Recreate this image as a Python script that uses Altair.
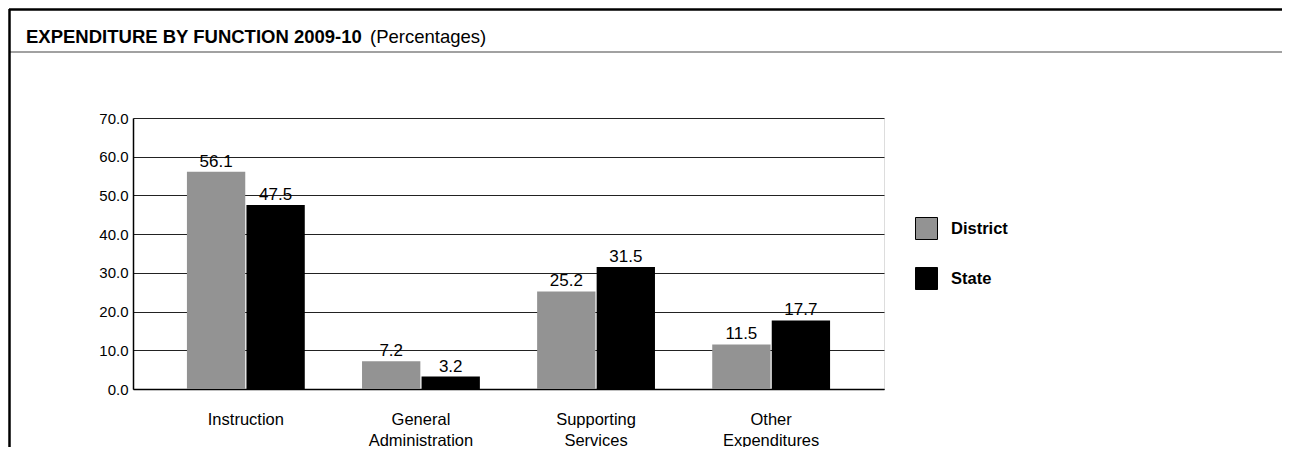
import altair as alt
import pandas as pd

categories = ["Instruction", "General Administration", "Supporting Services", "Other Expenditures"]
series = ["District", "State"]
district = [56.1, 7.2, 25.2, 11.5]
state = [47.5, 3.2, 31.5, 17.7]
y_ticks = [0, 10, 20, 30, 40, 50, 60, 70]
title_bold = "EXPENDITURE BY FUNCTION 2009-10"
title_normal = "(Percentages)"

rows = []
for c, d, s in zip(categories, district, state):
    rows.append({"Category": c, "Series": "District", "Value": d})
    rows.append({"Category": c, "Series": "State", "Value": s})
df = pd.DataFrame(rows)

FONT = "Liberation Sans"

x_enc = alt.X(
    "Category:N",
    sort=categories,
    scale=alt.Scale(paddingInner=0.327, paddingOuter=0.308),
    axis=alt.Axis(
        title=None, labelAngle=0, labelExpr="split(datum.label, ' ')",
        labelFontSize=16.5, labelFont=FONT, labelColor="black",
        labelPadding=22, labelLineHeight=21, ticks=False,
        domainColor="black", domainWidth=1.5,
    ),
)
y_enc = alt.Y(
    "Value:Q",
    scale=alt.Scale(domain=[0, 70]),
    axis=alt.Axis(
        title=None, values=y_ticks, format=".1f", ticks=False,
        labelPadding=5, labelFontSize=15, labelFont=FONT, labelColor="black",
        grid=True, gridColor="#222222", gridWidth=1,
        domainColor="black", domainWidth=1.5,
    ),
)
xoff = alt.XOffset("Series:N", sort=series, scale=alt.Scale(paddingInner=0.02))

base = alt.Chart(df)
bars = base.mark_bar().encode(
    x=x_enc, y=y_enc, xOffset=xoff,
    color=alt.Color(
        "Series:N", sort=series,
        scale=alt.Scale(domain=series, range=["#939393", "#000000"]),
        legend=alt.Legend(
            orient="none", legendX=782, legendY=99, title=None,
            symbolType="square", symbolSize=484,
            symbolStrokeColor="black", symbolStrokeWidth=1,
            labelFontSize=16.5, labelFontWeight="bold", labelFont=FONT,
            labelColor="black", rowPadding=23, labelOffset=13, padding=0,
        ),
    ),
)
labels = base.mark_text(dy=-5, baseline="alphabetic", fontSize=17, font=FONT, color="black").encode(
    x=x_enc, y=y_enc, xOffset=xoff, text=alt.Text("Value:Q", format=".1f"),
)

frame_df = pd.DataFrame({"k": [0]})
top_line = alt.Chart(frame_df).mark_rule(color="black", strokeWidth=2.5, clip=False).encode(
    x=alt.value(-124), x2=alt.value(1149), y=alt.value(-108.5))
sep_line = alt.Chart(frame_df).mark_rule(color="#444444", strokeWidth=1.2, clip=False).encode(
    x=alt.value(-124), x2=alt.value(1149), y=alt.value(-66))
left_line = alt.Chart(frame_df).mark_rule(color="black", strokeWidth=2.5, clip=False).encode(
    x=alt.value(-123.5), y=alt.value(-109), y2=alt.value(340))
t1 = alt.Chart(frame_df).mark_text(
    text=title_bold, align="left", baseline="alphabetic", fontSize=18.5,
    fontWeight="bold", font=FONT, color="black", clip=False,
).encode(x=alt.value(-107), y=alt.value(-75))
t2 = alt.Chart(frame_df).mark_text(
    text=title_normal, align="left", baseline="alphabetic", fontSize=18.5,
    font=FONT, color="black", clip=False,
).encode(x=alt.value(237), y=alt.value(-75))

chart = alt.layer(bars, labels, top_line, sep_line, left_line, t1, t2).properties(
    width=751, height=271,
    autosize=alt.AutoSizeParams(type="none"),
    padding={"left": 125, "top": 110, "right": 398, "bottom": 58},
    background="white",
).configure_view(stroke="black", strokeWidth=1.2).configure(font=FONT)

chart.save("out.html", embed_options={"renderer": "svg", "actions": False})
